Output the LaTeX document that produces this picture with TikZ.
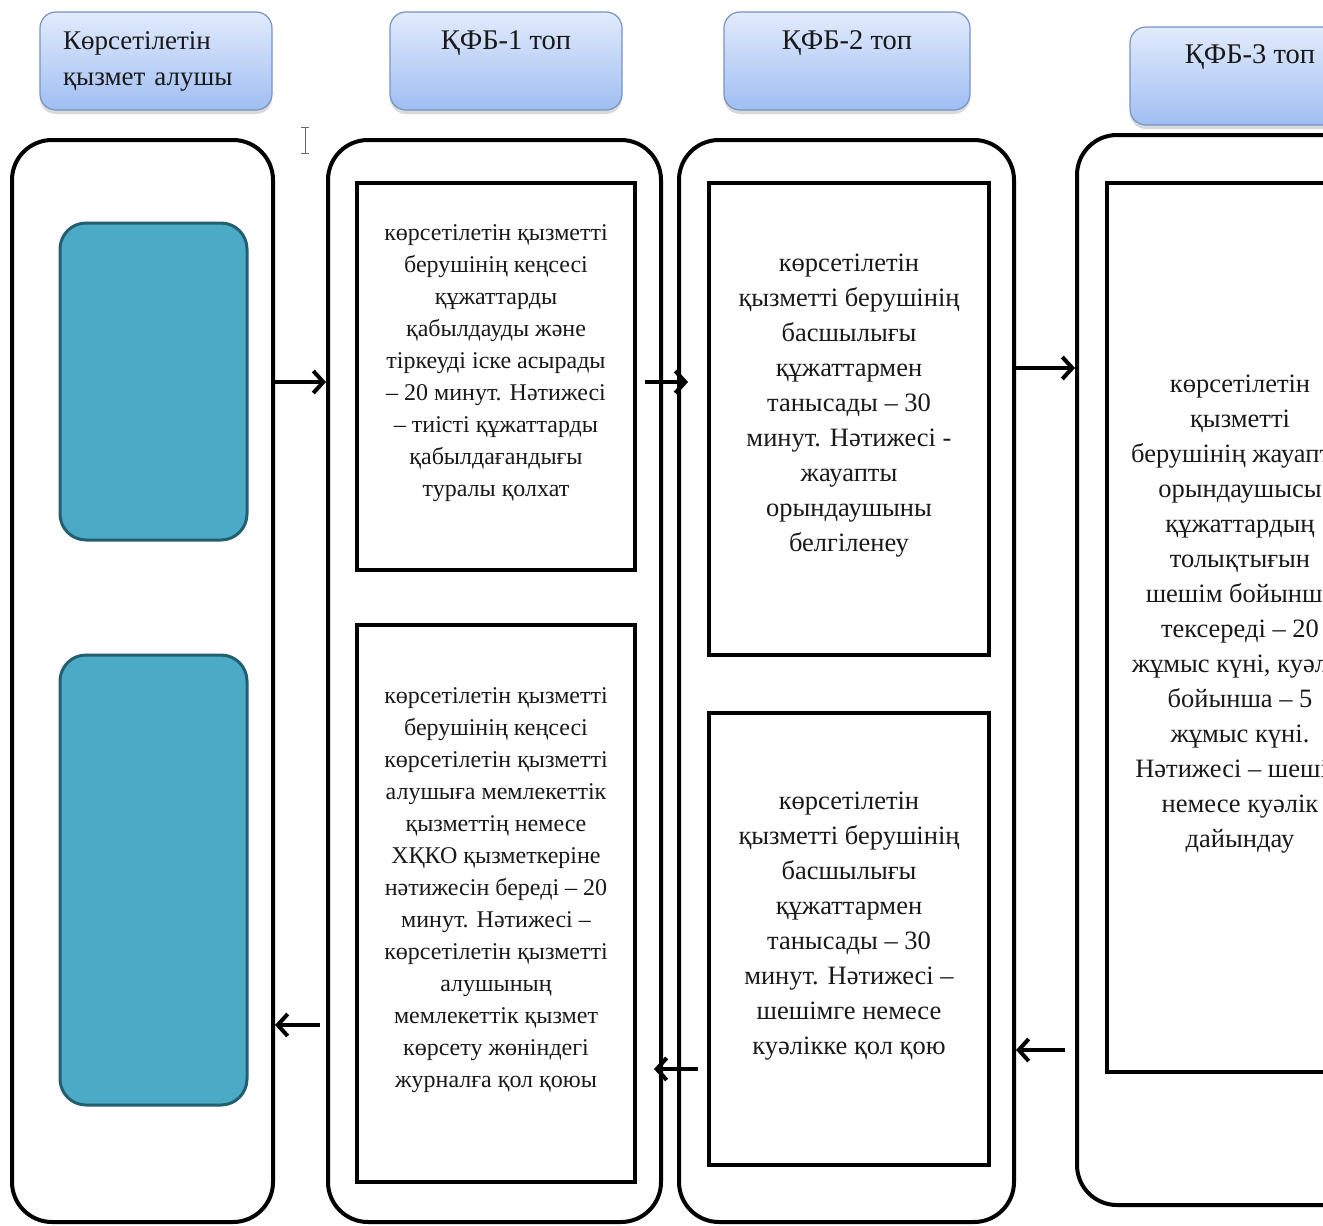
\documentclass[tikz,border=0pt]{standalone}
\usepackage{fontspec}
\setmainfont{Liberation Serif}
\usetikzlibrary{arrows.meta,shadows}
\definecolor{hdrtop}{RGB}{226,235,252}
\definecolor{hdrbot}{RGB}{160,190,242}
\definecolor{hdrline}{RGB}{118,148,198}
\definecolor{tealfill}{RGB}{75,170,197}
\definecolor{tealline}{RGB}{35,95,112}
\definecolor{txt}{RGB}{25,25,25}
\begin{document}
\begin{tikzpicture}[x=1pt,y=-1pt,
  hdr/.style={rounded corners=16pt, top color=hdrtop, bottom color=hdrbot, draw=hdrline, line width=1.2pt,
    drop shadow={shadow xshift=0pt,shadow yshift=-4pt,opacity=0.3}, minimum height=98pt, inner sep=0pt,
    text=txt, font=\fontsize{27}{36}\selectfont},
  hdrtxt/.style={text=txt, font=\fontsize{28.5}{36}\selectfont, inner sep=0pt},
  lane/.style={draw=black, line width=4pt, rounded corners=40pt, inner sep=0pt},
  tbox/.style={fill=tealfill, draw=tealline, line width=3pt, rounded corners=26pt, inner sep=0pt},
  pbox/.style={draw=black, line width=4pt, fill=white, inner sep=0pt},
  ta/.style={align=center, inner sep=0pt, text=txt, yshift=13pt, font=\fontsize{24}{32}\selectfont},
  tb/.style={align=center, inner sep=0pt, text=txt, yshift=13pt, font=\fontsize{26.5}{35}\selectfont},
  arr/.style={line width=4pt, -{Straight Barb[length=10pt,width=22pt]}}
]
\useasboundingbox (0,0) rectangle (1323,1226);
\clip (0,0) rectangle (1323,1226);

% headers
\node[hdr, minimum width=232pt, text width=186pt, align=left, inner xsep=23pt] (h0) at (156,61) {Көрсетілетін\\қызмет алушы};
\node[hdr, minimum width=232pt, label={[hdrtxt,yshift=18pt]center:ҚФБ-1 топ}] (h1) at (506,61) {};
\node[hdr, minimum width=246pt, label={[hdrtxt,yshift=18pt]center:ҚФБ-2 топ}] (h2) at (847,61) {};
\node[hdr, minimum width=240pt, label={[hdrtxt,yshift=19pt]center:ҚФБ-3 топ}] (h3) at (1250,76) {};

% cursor artifact
\draw[black!60, line width=1pt] (305,127) -- (305,153) (301,127) -- (309,127) (301,153) -- (309,153);

% lanes
\node[lane, minimum width=261pt, minimum height=1082pt] (l0) at (142.5,681) {};
\node[lane, minimum width=333pt, minimum height=1082pt] (l1) at (494.5,681) {};
\node[lane, minimum width=335pt, minimum height=1082pt] (l2) at (846.5,681) {};
\node[lane, minimum width=323pt, minimum height=1070pt] (l3) at (1238.5,670) {};

% client boxes
\node[tbox, minimum width=187pt, minimum height=317pt] (b1) at (153.5,381.5) {};
\node[tbox, minimum width=187pt, minimum height=450pt] (b2) at (153.5,880) {};

% process boxes
\node[pbox, minimum width=278pt, minimum height=387pt,
  label={[ta]center:{көрсетілетін қызметті\\берушінің кеңсесі\\құжаттарды\\қабылдауды және\\тіркеуді іске асырады\\– 20 минут. Нәтижесі\\– тиісті құжаттарды\\қабылдағандығы\\туралы қолхат}}] (p1) at (496,376.5) {};
\node[pbox, minimum width=278pt, minimum height=557pt,
  label={[ta]center:{көрсетілетін қызметті\\берушінің кеңсесі\\көрсетілетін қызметті\\алушыға мемлекеттік\\қызметтің немесе\\ХҚКО қызметкеріне\\нәтижесін береді – 20\\минут. Нәтижесі –\\көрсетілетін қызметті\\алушының\\мемлекеттік қызмет\\көрсету жөніндегі\\журналға қол қоюы}}] (p2) at (496,903.5) {};
\node[pbox, minimum width=280pt, minimum height=472pt,
  label={[tb]center:{көрсетілетін\\қызметті берушінің\\басшылығы\\құжаттармен\\танысады – 30\\минут. Нәтижесі -\\жауапты\\орындаушыны\\белгіленеу}}] (p3) at (849,419) {};
\node[pbox, minimum width=280pt, minimum height=452pt,
  label={[tb]center:{көрсетілетін\\қызметті берушінің\\басшылығы\\құжаттармен\\танысады – 30\\минут. Нәтижесі –\\шешімге немесе\\куәлікке қол қою}}] (p4) at (849,939) {};
\node[pbox, minimum width=266pt, minimum height=889pt,
  label={[tb]center:{көрсетілетін\\қызметті\\берушінің жауапты\\орындаушысы\\құжаттардың\\толықтығын\\шешім бойынша\\тексереді – 20\\жұмыс күні, куәлік\\бойынша – 5\\жұмыс күні.\\Нәтижесі – шешім\\немесе куәлік\\дайындау}}] (p5) at (1240,627.5) {};

% connectors
\draw[arr] (l0.east |- 0,382) -- (l1.west |- 0,382);
\draw[arr, shorten <=8pt, shorten >=19pt] (p1.east |- 0,382) -- (p3.west |- 0,382);
\draw[arr] (l2.east |- 0,368) -- (l3.west |- 0,368);
\draw[arr, shorten <=10pt] (l3.west |- 0,1050) -- (l2.east |- 0,1050);
\draw[arr, shorten <=9pt, shorten >=17pt] (p4.west |- 0,1069) -- (p2.east |- 0,1069);
\draw[arr, shorten <=6pt] (l1.west |- 0,1025) -- (l0.east |- 0,1025);
\end{tikzpicture}
\end{document}
